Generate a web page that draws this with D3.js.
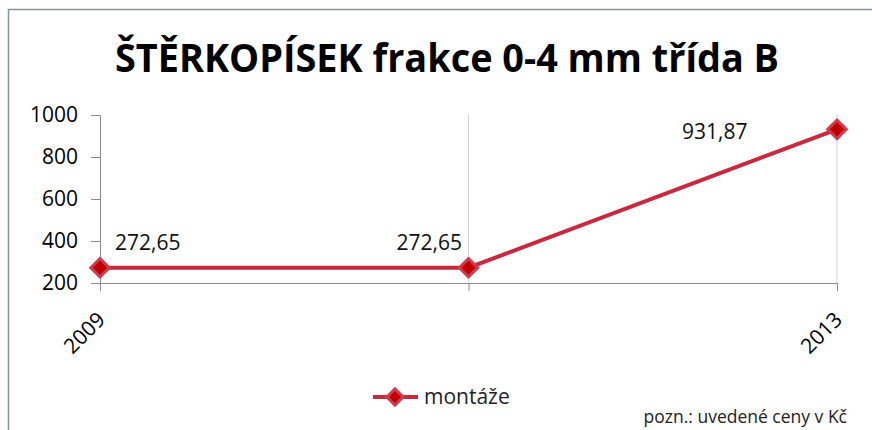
<!DOCTYPE html>
<html>
<head>
<meta charset="utf-8">
<script src="https://cdn.jsdelivr.net/npm/d3@7"></script>
<style>
  body { margin: 0; background: #fff; }
  text { font-family: "Open Sans", "Noto Sans", sans-serif; }
</style>
</head>
<body>
<div id="chart"></div>
<script>
const years = ['2009', '', '2013'];
const prices = [272.65, 272.65, 931.87];
const priceLabels = ['272,65', '272,65', '931,87'];
const yTicks = [200, 400, 600, 800, 1000];
const seriesName = 'montáže';
const title = 'ŠTĚRKOPÍSEK frakce 0-4 mm třída B';
const note = 'pozn.: uvedené ceny v Kč';

const width = 872;
const height = 430;
const margin = { top: 115, right: 35, bottom: 147, left: 100 };

const lineColor = '#c9283e';
const markerFill = '#c00000';
const axisColor = '#8c8c8c';

const svg = d3.select('#chart')
    .append('svg')
    .attr('width', width)
    .attr('height', height);

// outer frame (runs past the right and bottom edges)
svg.append('rect')
    .attr('x', 8.5)
    .attr('y', 9.5)
    .attr('width', 900)
    .attr('height', 440)
    .attr('fill', 'none')
    .attr('stroke', '#879494')
    .attr('stroke-width', 1.5);

svg.append('text')
    .attr('x', 447)
    .attr('y', 72)
    .attr('text-anchor', 'middle')
    .attr('font-size', 39)
    .attr('font-weight', 'bold')
    .attr('textLength', 664)
    .attr('lengthAdjust', 'spacingAndGlyphs')
    .text(title);

const x = d3.scalePoint()
    .domain(d3.range(years.length))
    .range([margin.left, width - margin.right]);

const y = d3.scaleLinear()
    .domain([200, 1000])
    .range([height - margin.bottom, margin.top]);

// vertical gridlines
svg.append('g')
    .selectAll('line')
    .data(d3.range(1, years.length))
    .join('line')
    .attr('x1', i => x(i))
    .attr('x2', i => x(i))
    .attr('y1', y(1000))
    .attr('y2', y(200))
    .attr('stroke', '#d0d4d4');

function xAxis(g) {
    g.attr('transform', `translate(0,${y(200)})`)
        .call(d3.axisBottom(x).tickSize(8).tickFormat(i => years[i]))
        .attr('font-size', 21);
    g.selectAll('.domain, line').attr('stroke', axisColor);
    g.selectAll('text')
        .attr('fill', '#000')
        .attr('text-anchor', 'end')
        .attr('dy', '0.35em')
        .attr('transform', 'translate(-7,25) rotate(-45)');
}

function yAxis(g) {
    g.attr('transform', `translate(${margin.left},0)`)
        .call(d3.axisLeft(y).tickValues(yTicks).tickSize(9).tickPadding(13).tickFormat(d3.format('d')))
        .attr('font-size', 21);
    g.selectAll('.domain, line').attr('stroke', axisColor);
    g.selectAll('text').attr('fill', '#000');
}

svg.append('g').call(xAxis);
svg.append('g').call(yAxis);

const line = d3.line()
    .x((d, i) => x(i))
    .y(d => y(d));

svg.append('path')
    .datum(prices)
    .attr('fill', 'none')
    .attr('stroke', lineColor)
    .attr('stroke-width', 4)
    .attr('d', line);

svg.append('g')
    .selectAll('path')
    .data(prices)
    .join('path')
    .attr('transform', (d, i) => `translate(${x(i)},${y(d)}) rotate(45)`)
    .attr('d', d3.symbol().type(d3.symbolSquare).size(170))
    .attr('fill', markerFill)
    .attr('stroke', '#d13a4e')
    .attr('stroke-width', 3);

// data label offsets from each point
const labelDx = [15, -72, -155];
const labelDy = [-18, -18, 10];

svg.append('g')
    .selectAll('text')
    .data(prices)
    .join('text')
    .attr('x', (d, i) => x(i) + labelDx[i])
    .attr('y', (d, i) => y(d) + labelDy[i])
    .attr('font-size', 21)
    .attr('fill', '#111')
    .text((d, i) => priceLabels[i]);

// legend
const legend = svg.append('g').attr('transform', 'translate(373,397)');
legend.append('line')
    .attr('x1', 0).attr('x2', 45)
    .attr('stroke', lineColor)
    .attr('stroke-width', 4);
legend.append('path')
    .attr('transform', 'translate(22,0) rotate(45)')
    .attr('d', d3.symbol().type(d3.symbolSquare).size(130))
    .attr('fill', markerFill)
    .attr('stroke', '#d13a4e')
    .attr('stroke-width', 3);
legend.append('text')
    .attr('x', 51)
    .attr('y', 7)
    .attr('font-size', 21)
    .attr('fill', '#222')
    .text(seriesName);

svg.append('text')
    .attr('x', 847)
    .attr('y', 423)
    .attr('text-anchor', 'end')
    .attr('font-size', 17.5)
    .attr('fill', '#222')
    .text(note);
</script>
</body>
</html>
